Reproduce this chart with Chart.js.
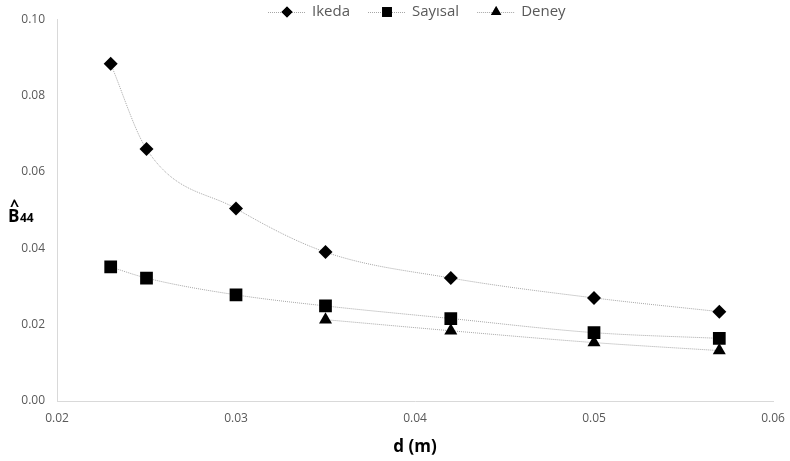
<!DOCTYPE html>
<html>
<head>
<meta charset="utf-8">
<script src="https://cdn.jsdelivr.net/npm/chart.js@4/dist/chart.umd.min.js"></script>
<style>
html,body{margin:0;padding:0;background:#fff;}
#wrap{width:790px;height:461px;position:relative;}
</style>
</head>
<body>
<div id="wrap"><canvas id="c" width="790" height="461"></canvas></div>
<script>
const dValues = [0.023, 0.025, 0.030, 0.035, 0.042, 0.050, 0.057];
const ikeda   = [0.0883, 0.0660, 0.0504, 0.0390, 0.0322, 0.0270, 0.0234];
const sayisal = [0.0351, 0.0322, 0.0278, 0.0249, 0.0216, 0.0179, 0.0164];
const deneyX  = [0.035, 0.042, 0.050, 0.057];
const deney   = [0.0213, 0.0184, 0.0153, 0.0132];
const seriesNames = ['Ikeda', 'Sayısal', 'Deney'];
const xTicks = [0.02, 0.03, 0.04, 0.05, 0.06];
const yTicks = [0.00, 0.02, 0.04, 0.06, 0.08, 0.10];

const toPts = (xs, ys) => xs.map((x, i) => ({x: x, y: ys[i]}));
const styles = ['rectRot', 'rect', 'triangle'];
const radii = [7, 9, 7.5];
const legendRadii = [5.5, 7, 6];

function ds(name, pts, idx) {
  return {
    label: name, data: pts, showLine: true,
    borderColor: '#a6a6a6', borderWidth: 1, borderDash: [1, 1],
    cubicInterpolationMode: 'monotone',
    pointStyle: styles[idx], pointRadius: radii[idx],
    pointBackgroundColor: '#000', pointBorderColor: '#000', pointBorderWidth: 0
  };
}

const decor = {
  id: 'decor',
  afterDraw(chart) {
    const ctx = chart.ctx;
    ctx.save();
    // legend
    ctx.font = '15px "Open Sans", "Liberation Sans", sans-serif';
    ctx.textBaseline = 'middle';
    const y = 12;
    let x = 268;
    seriesNames.forEach((n, i) => {
      ctx.strokeStyle = '#a6a6a6';
      ctx.lineWidth = 1;
      ctx.setLineDash([1, 1]);
      ctx.beginPath(); ctx.moveTo(x, y + 0.5); ctx.lineTo(x + 38, y + 0.5); ctx.stroke();
      ctx.setLineDash([]);
      Chart.helpers.drawPoint(ctx, {pointStyle: styles[i], radius: legendRadii[i], borderWidth: 0}, x + 19, y);
      ctx.fillStyle = '#000';
      ctx.fill();
      ctx.fillStyle = '#595959';
      ctx.textAlign = 'left';
      ctx.fillText(n, x + 44, y);
      x += 44 + ctx.measureText(n).width + 18;
    });
    // y title
    ctx.fillStyle = '#000';
    ctx.font = 'bold 17px "Open Sans", "Liberation Sans", sans-serif';
    ctx.textAlign = 'left';
    ctx.textBaseline = 'alphabetic';
    ctx.fillText('B', 8, 222);
    ctx.font = 'bold 16px "Open Sans", "Liberation Sans", sans-serif';
    ctx.fillText('^', 10, 211);
    ctx.font = 'bold 12px "Open Sans", "Liberation Sans", sans-serif';
    ctx.fillText('44', 20, 222);
    ctx.restore();
  }
};

new Chart(document.getElementById('c'), {
  type: 'scatter',
  data: {
    datasets: [
      ds(seriesNames[0], toPts(dValues, ikeda), 0),
      ds(seriesNames[1], toPts(dValues, sayisal), 1),
      ds(seriesNames[2], toPts(deneyX, deney), 2)
    ]
  },
  options: {
    responsive: false, animation: false,
    layout: {padding: {top: 16, right: 17, left: 0, bottom: 0}},
    plugins: {legend: {display: false}, tooltip: {enabled: false}},
    scales: {
      x: {
        type: 'linear', min: 0.02, max: 0.06,
        afterBuildTicks: s => { s.ticks = xTicks.map(v => ({value: v})); },
        ticks: {color: '#595959', font: {size: 12, family: '"Open Sans", "Liberation Sans", sans-serif'},
                padding: 10, callback: v => v.toFixed(2)},
        grid: {display: false, drawTicks: false},
        border: {color: '#d9d9d9', width: 1},
        title: {display: true, text: 'd (m)', color: '#000',
                font: {size: 17, weight: 'bold', family: '"Open Sans", "Liberation Sans", sans-serif'},
                padding: {top: 2, bottom: 4}},
        afterFit: s => { s.height = 60; s.paddingRight = 0; s.paddingLeft = 0; }
      },
      y: {
        min: 0, max: 0.10,
        afterBuildTicks: s => { s.ticks = yTicks.map(v => ({value: v})); },
        ticks: {color: '#595959', font: {size: 12, family: '"Open Sans", "Liberation Sans", sans-serif'},
                padding: 12, callback: v => v.toFixed(2)},
        grid: {display: false, drawTicks: false},
        border: {color: '#d9d9d9', width: 1},
        afterFit: s => { s.width = 57; }
      }
    }
  },
  plugins: [decor]
});
</script>
</body>
</html>
